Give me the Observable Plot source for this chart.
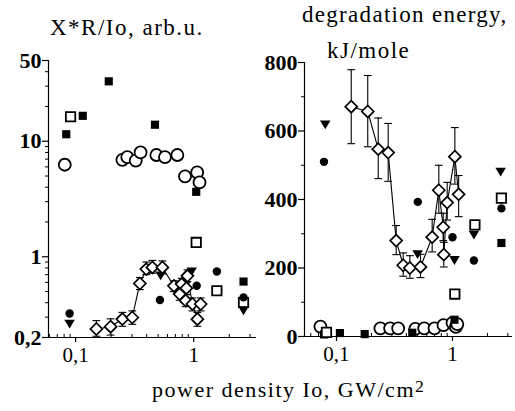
<!DOCTYPE html>
<html><head><meta charset="utf-8">
<script src="https://cdn.jsdelivr.net/npm/d3@7"></script>
<script src="https://cdn.jsdelivr.net/npm/@observablehq/plot@0.6"></script>
<style>
body{margin:0;background:#fff;}
#wrap{position:relative;width:515px;height:411px;overflow:hidden;background:#fff;}
#wrap svg{position:absolute;left:0;top:0;}
.t{position:absolute;font-family:'Liberation Serif',serif;font-size:23px;line-height:1;letter-spacing:1.5px;white-space:nowrap;color:#000;}
.t sup{font-size:0.8em;vertical-align:0.3em;line-height:0;}
</style></head><body>
<div id="wrap">
  <div class="t" style="left:50px;top:15.5px;">X*R/Io, arb.u.</div>
  <div class="t" style="left:302px;top:2.5px;letter-spacing:1.3px;">degradation energy,</div>
  <div class="t" style="left:327px;top:38.5px;">kJ/mole</div>
  <div class="t" style="left:152px;top:379px;font-size:22px;">power density Io, GW/cm<sup>2</sup></div>
</div>
<script>
// ---------- axis ticks ----------
const xMajor = [0.1, 1];
const xMajorLabels = ["0,1", "1"];
const xMinor = [0.06, 0.07, 0.08, 0.09, 0.2, 0.3, 0.4, 0.5, 0.6, 0.7, 0.8, 0.9, 2, 3];
const leftYTicks = [0.2, 1, 10, 50];
const leftYTickLabels = ["0,2", "1", "10", "50"];
const leftYMinor = [0.3, 0.4, 0.5, 0.6, 0.7, 0.8, 0.9, 2, 3, 4, 5, 6, 7, 8, 9, 20, 30, 40];
const rightYTicks = [0, 200, 400, 600, 800];
const rightYTickLabels = ["0", "200", "400", "600", "800"];
const rightYMinor = [100, 300, 500, 700];

// ---------- left panel: X*R/Io ----------
const leftFilledSquareX = [0.0834, 0.115, 0.191, 0.47, 1.05, 2.64];
const leftFilledSquareY = [11.5, 16.6, 33, 13.9, 3.65, 0.61];
const leftOpenSquareX = [0.0907, 1.05, 1.57, 2.64];
const leftOpenSquareY = [16.3, 1.33, 0.508, 0.402];
const leftOpenCircleX = [0.081, 0.249, 0.274, 0.323, 0.355, 0.483, 0.571, 0.727, 0.844, 1.07, 1.12];
const leftOpenCircleY = [6.26, 6.9, 7.3, 6.8, 8.0, 7.6, 7.3, 7.6, 4.96, 5.37, 4.4];
const leftFilledCircleX = [0.089, 0.518, 1.06, 1.57, 2.64];
const leftFilledCircleY = [0.323, 0.422, 0.561, 0.746, 0.445];
const leftTriangleX = [0.089, 0.525, 0.96, 2.64];
const leftTriangleY = [0.261, 0.684, 0.74, 0.34];
const leftDiamondX = [0.15, 0.198, 0.249, 0.302, 0.35, 0.397, 0.447, 0.543, 0.68, 0.76, 0.79, 0.855, 0.867, 0.885, 0.975, 1.074, 1.146];
const leftDiamondY = [0.237, 0.248, 0.289, 0.298, 0.587, 0.782, 0.808, 0.808, 0.56, 0.475, 0.58, 0.417, 0.535, 0.684, 0.39, 0.288, 0.39];
const leftDiamondHi = [0.28, 0.29, 0.33, 0.34, 0.66, 0.90, 0.93, 0.92, 0.62, 0.53, 0.65, 0.47, 0.60, 0.77, 0.44, 0.33, 0.44];
const leftDiamondLo = [0.205, 0.21, 0.25, 0.26, 0.52, 0.70, 0.72, 0.71, 0.50, 0.42, 0.52, 0.37, 0.47, 0.61, 0.34, 0.25, 0.34];

// ---------- right panel: degradation energy ----------
const rightOpenCircleX = [0.0727, 0.239, 0.29, 0.34, 0.478, 0.57, 0.70, 0.836, 1.0, 1.07, 1.1];
const rightOpenCircleY = [29, 24, 24, 24, 22, 24, 24, 33, 40, 28, 36];
const rightFilledSquareX = [0.078, 0.107, 0.175, 0.45, 1.04, 2.64];
const rightFilledSquareY = [6, 10, 7, 11, 49, 273];
const rightOpenSquareX = [0.082, 1.047, 1.56, 2.64];
const rightOpenSquareY = [12, 124, 326, 404];
const rightFilledCircleX = [0.078, 0.502, 1.0, 1.53, 2.64];
const rightFilledCircleY = [510, 393, 290, 222, 374];
const rightTriangleX = [0.08, 0.50, 1.04, 1.53, 2.60];
const rightTriangleY = [618, 239, 222, 296, 480];
const rightDiamondX = [0.134, 0.186, 0.229, 0.279, 0.327, 0.376, 0.429, 0.53, 0.668, 0.762, 0.832, 0.841, 0.9, 1.048, 1.13];
const rightDiamondY = [671, 657, 547, 537, 280, 208, 200, 203, 290, 427, 319, 239, 391, 525, 415];
const rightDiamondHi = [779, 762, 638, 622, 324, 244, 236, 240, 342, 500, 360, 275, 450, 610, 470];
const rightDiamondLo = [563, 554, 461, 453, 239, 176, 170, 172, 247, 360, 280, 203, 340, 445, 350];

// ---------- helpers ----------
const W = 515, H = 411;
const FONT = "'Liberation Serif', 'Times New Roman', serif";
const pts = (xs, ys) => xs.map((x, i) => ({x, y: ys[i]}));
const bars = (xs, ys, lo, hi) => xs.map((x, i) => ({x, y: ys[i], lo: lo[i], hi: hi[i]}));
const triDown = {draw(ctx, size) {const s = Math.sqrt(size), w = s * 0.62, h = s * 0.52; ctx.moveTo(-w, -h); ctx.lineTo(w, -h); ctx.lineTo(0, h); ctx.closePath();}};
const capSym = {draw(ctx, size) {const w = Math.sqrt(size) * 0.55; ctx.moveTo(-w, 0); ctx.lineTo(w, 0);}};
const baseStyle = {fontFamily: FONT, fontSize: "20px", background: "transparent", overflow: "visible", color: "black"};

function axisMarks(a) {
  const fw = a.frameW, fh = a.frameH;
  return [
    Plot.ruleX([a.xMin], {stroke: "black", strokeWidth: 1.2}),
    Plot.ruleY([a.yMin], {stroke: "black", strokeWidth: 1.2}),
    // x ticks: majors downward, minors upward
    Plot.tickX(xMajor, {x: d => d, insetTop: fh - 5, dy: 5, stroke: "black", strokeWidth: 1.2}),
    Plot.tickX(xMinor, {x: d => d, insetTop: fh - 3, stroke: "black"}),
    Plot.text(xMajor, {x: d => d, frameAnchor: "bottom", lineAnchor: "top", dy: 10, text: (d, i) => xMajorLabels[i], fontSize: 21, fontFamily: FONT}),
    // y ticks: outward
    Plot.tickY(a.yTicks, {y: d => d, insetRight: fw - 6, dx: -6, stroke: "black", strokeWidth: 1.2}),
    Plot.tickY(a.yMinor, {y: d => d, insetRight: fw - 3, dx: -3, stroke: "black"}),
    Plot.text(a.yTicks, {y: d => d, frameAnchor: "left", textAnchor: "end", dx: -7, text: (d, i) => a.yLabels[i], fontSize: 22, fontWeight: "bold", fontFamily: FONT})
  ];
}

function seriesMarks(s) {
  const err = bars(s.dX, s.dY, s.dLo, s.dHi);
  return [
    Plot.line(pts(s.dX, s.dY), {x: "x", y: "y", stroke: "black", strokeWidth: 1.1}),
    Plot.ruleX(err, {x: "x", y1: "lo", y2: "hi", stroke: "black", strokeWidth: 1.1}),
    Plot.dot(err, {x: "x", y: "lo", symbol: capSym, r: 4, stroke: "black", fill: "none", strokeWidth: 1.1}),
    Plot.dot(err, {x: "x", y: "hi", symbol: capSym, r: 4, stroke: "black", fill: "none", strokeWidth: 1.1}),
    Plot.dot(pts(s.ocX, s.ocY), {x: "x", y: "y", symbol: "circle", r: 6, stroke: "black", fill: "white", strokeWidth: 1.8}),
    Plot.dot(pts(s.fsX, s.fsY), {x: "x", y: "y", symbol: "square", r: 4.6, fill: "black", stroke: "none"}),
    Plot.dot(pts(s.osX, s.osY), {x: "x", y: "y", symbol: "square", r: 5.3, fill: "white", stroke: "black", strokeWidth: 1.8}),
    Plot.dot(pts(s.trX, s.trY), {x: "x", y: "y", symbol: triDown, r: 4.8, fill: "black", stroke: "none"}),
    Plot.dot(pts(s.fcX, s.fcY), {x: "x", y: "y", symbol: "circle", r: 4.2, fill: "black", stroke: "none"}),
    Plot.dot(pts(s.dX, s.dY), {x: "x", y: "y", symbol: "diamond2", r: 5.4, fill: "white", stroke: "black", strokeWidth: 1.7})
  ];
}

// ---------- left plot ----------
const leftPlot = Plot.plot({
  width: W, height: H,
  marginLeft: 48, marginRight: W - 256, marginTop: 60, marginBottom: H - 337,
  style: baseStyle,
  x: {type: "log", domain: [0.059, 3.4], axis: null},
  y: {type: "log", domain: [0.2, 50], axis: null},
  marks: [
    ...axisMarks({frameW: 256 - 48, frameH: 337 - 60, xMin: 0.059, yMin: 0.2, yTicks: leftYTicks, yLabels: leftYTickLabels, yMinor: leftYMinor}),
    ...seriesMarks({
      dX: leftDiamondX, dY: leftDiamondY, dLo: leftDiamondLo, dHi: leftDiamondHi,
      ocX: leftOpenCircleX, ocY: leftOpenCircleY,
      fsX: leftFilledSquareX, fsY: leftFilledSquareY,
      osX: leftOpenSquareX, osY: leftOpenSquareY,
      trX: leftTriangleX, trY: leftTriangleY,
      fcX: leftFilledCircleX, fcY: leftFilledCircleY
    })
  ]
});

// ---------- right plot ----------
const rightPlot = Plot.plot({
  width: W, height: H,
  marginLeft: 304, marginRight: 3, marginTop: 62, marginBottom: H - 336,
  style: baseStyle,
  x: {type: "log", domain: [0.053, 3.29], axis: null},
  y: {type: "linear", domain: [0, 800], axis: null},
  marks: [
    ...axisMarks({frameW: 512 - 304, frameH: 336 - 62, xMin: 0.053, yMin: 0, yTicks: rightYTicks, yLabels: rightYTickLabels, yMinor: rightYMinor}),
    ...seriesMarks({
      dX: rightDiamondX, dY: rightDiamondY, dLo: rightDiamondLo, dHi: rightDiamondHi,
      ocX: rightOpenCircleX, ocY: rightOpenCircleY,
      fsX: rightFilledSquareX, fsY: rightFilledSquareY,
      osX: rightOpenSquareX, osY: rightOpenSquareY,
      trX: rightTriangleX, trY: rightTriangleY,
      fcX: rightFilledCircleX, fcY: rightFilledCircleY
    })
  ]
});

const wrap = document.getElementById("wrap");
wrap.insertBefore(rightPlot, wrap.firstChild);
wrap.insertBefore(leftPlot, wrap.firstChild);
</script>
</body></html>
